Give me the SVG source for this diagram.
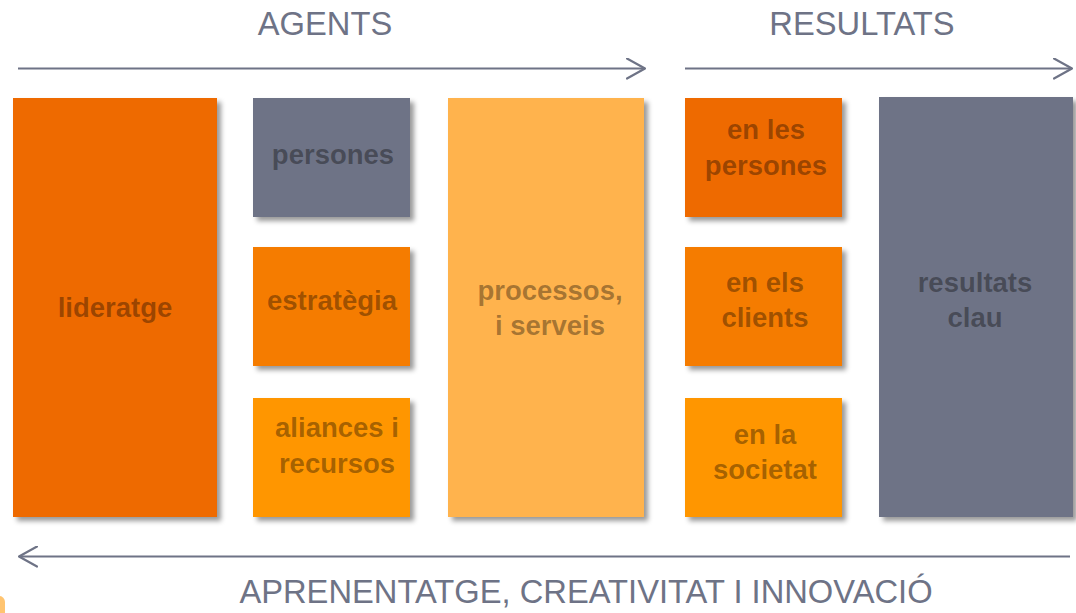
<svg xmlns="http://www.w3.org/2000/svg" width="1076" height="613" viewBox="0 0 1076 613">
  <defs>
    <filter id="sh" x="-10%" y="-10%" width="130%" height="130%">
      <feDropShadow dx="4" dy="4" stdDeviation="2.5" flood-color="#000" flood-opacity="0.4"/>
    </filter>
    <marker id="chev" viewBox="0 0 20 22" refX="19" refY="11" markerWidth="20" markerHeight="22" markerUnits="userSpaceOnUse" orient="auto-start-reverse">
      <path d="M1,1 L19,11 L1,21" fill="none" stroke="#6E7386" stroke-width="2.2" stroke-linecap="round" stroke-linejoin="round"/>
    </marker>
  </defs>
  <style>
    .box { filter: url(#sh); }
    .lbl { font-family: "Liberation Sans", Arial, sans-serif; font-weight: bold; font-size: 27.5px; fill: #000; fill-opacity: 0.36; text-anchor: middle; }
    .hdr { font-family: "Liberation Sans", Arial, sans-serif; font-size: 32.7px; fill: #6E7386; text-anchor: middle; }
    .ln { stroke: #6E7386; stroke-width: 2.2; fill: none; }
  </style>
  <rect width="1076" height="613" fill="#FFFFFF"/>
  <rect x="-20" y="596" width="25" height="30" rx="6" fill="#FFC470"/>

  <text class="hdr" x="325" y="35">AGENTS</text>
  <text class="hdr" x="862" y="35">RESULTATS</text>
  <text class="hdr" x="586" y="603">APRENENTATGE, CREATIVITAT I INNOVACIÓ</text>

  <g id="connectors">
    <line class="ln" x1="18" y1="68.5" x2="645" y2="68.5" marker-end="url(#chev)"/>
    <line class="ln" x1="685" y1="68.5" x2="1072" y2="68.5" marker-end="url(#chev)"/>
    <line class="ln" x1="1070" y1="556.5" x2="19" y2="556.5" marker-end="url(#chev)"/>
  </g>

  <g id="lideratge">
    <rect class="box" x="13" y="98" width="204" height="419" fill="#EE6B00"/>
    <text class="lbl" x="115" y="317">lideratge</text>
  </g>
  <g id="persones">
    <rect class="box" x="253" y="98" width="157" height="119" fill="#6E7386"/>
    <text class="lbl" x="333" y="164">persones</text>
  </g>
  <g id="estrategia">
    <rect class="box" x="253" y="247" width="157" height="119" fill="#F57C00"/>
    <text class="lbl" x="332" y="310">estratègia</text>
  </g>
  <g id="aliances">
    <rect class="box" x="253" y="398" width="157" height="119" fill="#FF9600"/>
    <text class="lbl" x="337" y="437">aliances i</text>
    <text class="lbl" x="337" y="473">recursos</text>
  </g>
  <g id="processos">
    <rect class="box" x="448" y="98" width="196" height="419" fill="#FFB34D"/>
    <text class="lbl" x="550" y="300">processos,</text>
    <text class="lbl" x="550" y="335">i serveis</text>
  </g>
  <g id="en-les-persones">
    <rect class="box" x="685" y="98" width="157" height="119" fill="#EE6B00"/>
    <text class="lbl" x="766" y="139">en les</text>
    <text class="lbl" x="766" y="175">persones</text>
  </g>
  <g id="en-els-clients">
    <rect class="box" x="685" y="247" width="157" height="119" fill="#F57C00"/>
    <text class="lbl" x="765" y="292">en els</text>
    <text class="lbl" x="765" y="327">clients</text>
  </g>
  <g id="en-la-societat">
    <rect class="box" x="685" y="398" width="157" height="119" fill="#FF9600"/>
    <text class="lbl" x="765" y="444">en la</text>
    <text class="lbl" x="765" y="479">societat</text>
  </g>
  <g id="resultats-clau">
    <rect class="box" x="879" y="97" width="194" height="420" fill="#6E7386"/>
    <text class="lbl" x="975" y="292">resultats</text>
    <text class="lbl" x="975" y="327">clau</text>
  </g>
</svg>
